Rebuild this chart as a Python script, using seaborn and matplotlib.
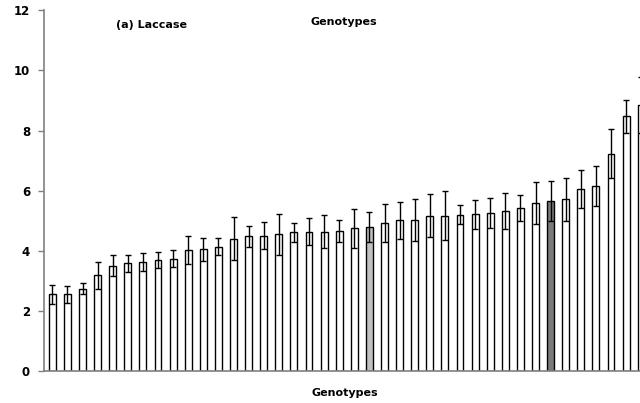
import numpy as np
import pandas as pd
import matplotlib
matplotlib.use("Agg")
import matplotlib.pyplot as plt
import seaborn as sns

# laccase activity per genotype (sorted)
means = [2.55, 2.55, 2.73, 3.18, 3.50, 3.58, 3.63, 3.69, 3.73, 4.03,
         4.05, 4.13, 4.40, 4.47, 4.49, 4.54, 4.61, 4.63, 4.63, 4.66,
         4.74, 4.78, 4.92, 5.01, 5.02, 5.16, 5.16, 5.20, 5.21, 5.25,
         5.32, 5.42, 5.60, 5.65, 5.71, 6.05, 6.15, 7.23, 8.47, 8.85]
errs = [0.32, 0.28, 0.19, 0.45, 0.36, 0.28, 0.30, 0.27, 0.29, 0.46,
        0.38, 0.28, 0.72, 0.36, 0.45, 0.69, 0.32, 0.44, 0.54, 0.37,
        0.64, 0.50, 0.63, 0.62, 0.69, 0.71, 0.81, 0.31, 0.49, 0.51,
        0.60, 0.44, 0.70, 0.68, 0.72, 0.63, 0.67, 0.82, 0.54, 0.93]
genotypes = [f"G{i + 1}" for i in range(len(means))]
# two highlighted genotypes
light_idx = 21
dark_idx = 33

colors = ["white"] * len(means)
colors[light_idx] = "#c0c0c0"
colors[dark_idx] = "#7a7a7a"

df = pd.DataFrame({"genotype": genotypes, "laccase": means, "err": errs})

sns.set_style("white")
plt.rcParams["font.family"] = ["DejaVu Sans"]
plt.rcParams["text.color"] = "black"
plt.rcParams["ytick.color"] = "black"

fig = plt.figure(figsize=(6.4, 4.03), dpi=100)
ax = fig.add_axes([44 / 640, 32.3 / 403, 1 - 44 / 640, (371 - 10.7) / 403])

sns.barplot(data=df, x="genotype", y="laccase", hue="genotype",
            palette=colors, legend=False, errorbar=None, width=0.46,
            edgecolor="black", linewidth=1, ax=ax)
ax.errorbar(x=np.arange(len(means)), y=df["laccase"], yerr=df["err"],
            fmt="none", ecolor="black", elinewidth=1, capsize=2.3, capthick=1)

ax.set_ylim(0, 12)
ax.set_xlim(-0.55, 38.92)
ax.set_yticks([0, 2, 4, 6, 8, 10, 12])
ax.set_xticks([])
ax.set_xlabel("")
ax.set_ylabel("")
for lab in ax.get_yticklabels():
    lab.set_fontweight("bold")
ax.tick_params(axis="y", length=4, width=1, color="#808080", labelcolor="black",
               labelsize=8.5, pad=6, left=True)

for s in ["top", "right"]:
    ax.spines[s].set_visible(False)
for s in ["left", "bottom"]:
    ax.spines[s].set_color("#808080")
    ax.spines[s].set_linewidth(1.2)

fig.text(152 / 640, 1 - 25 / 403, "(a) Laccase", ha="center", va="center",
         fontsize=8, fontweight="bold", color="black")
fig.text(344 / 640, 1 - 22 / 403, "Genotypes", ha="center", va="center",
         fontsize=8, fontweight="bold", color="black")
fig.text(345 / 640, 1 - 393 / 403, "Genotypes", ha="center", va="center",
         fontsize=8, fontweight="bold", color="black")

fig.savefig("out.png", dpi=100)
